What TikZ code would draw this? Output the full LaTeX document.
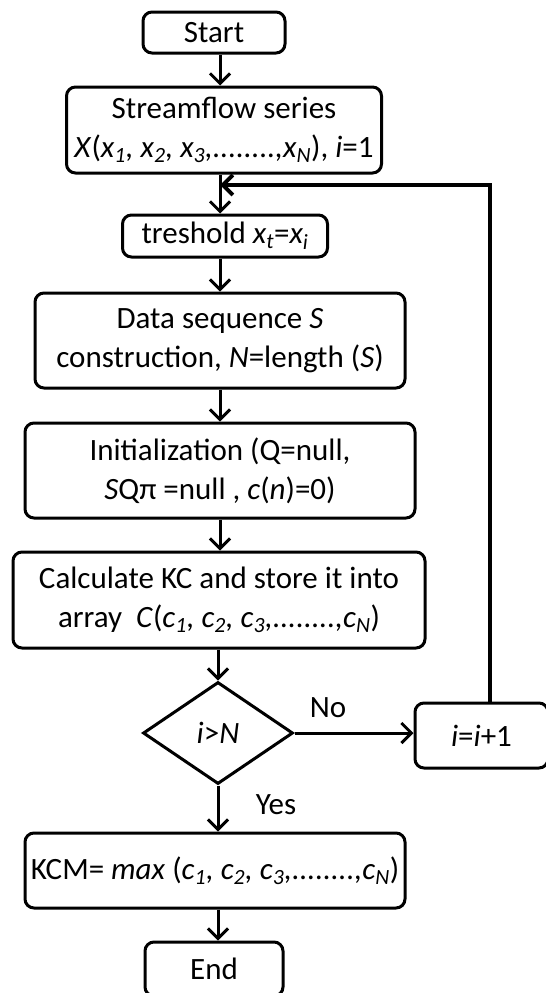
\documentclass[tikz,border=0pt]{standalone}
\usepackage{fontspec}
\setmainfont{Carlito}
\usepackage{tikz}
\usetikzlibrary{shapes.geometric,arrows.meta,positioning,calc}

\newcommand{\ssub}[1]{\textsubscript{#1}}

\tikzset{
    flowbox/.style={draw, line width=3pt, rounded corners=9pt, align=center,
        inner sep=0pt, font=\fontsize{31}{39}\selectfont},
    decbox/.style={draw, diamond, line width=3pt, inner sep=0pt, aspect=1.5,
        minimum width=150pt, minimum height=102pt, font=\fontsize{31}{39}\selectfont},
    flowarrow/.style={line width=3pt, -{Straight Barb[length=10pt,width=20pt]}},
    flowlabel/.style={font=\fontsize{31}{36}\selectfont}
}

\begin{document}
\begin{tikzpicture}[x=1pt, y=-1pt]
    \useasboundingbox (0,0) rectangle (546,993);
    \clip (0,0) rectangle (546,993);

    % Main column of steps
    \node[flowbox, minimum width=142pt, minimum height=41pt] (start) at (214,32.5) {Start};
    \node[flowbox, minimum width=315pt, minimum height=86pt] (series) at (224,130)
        {Streamflow series\\\textit{X}(\textit{x\ssub{1}, x\ssub{2}, x\ssub{3},........,x\ssub{N}}), \textit{i}=1};
    \node[flowbox, minimum width=205pt, minimum height=42pt] (thresh) at (225,236)
        {treshold \textit{x\ssub{t}}=\textit{x\ssub{i}}};
    \node[flowbox, minimum width=370pt, minimum height=95pt] (dataseq) at (220,340.5)
        {Data sequence \textit{S}\\construction, \textit{N}=length (\textit{S})};
    \node[flowbox, minimum width=390pt, minimum height=95pt] (init) at (220,470.5)
        {Initialization (Q=null,\\\textit{S}Qπ =null , \textit{c}(\textit{n})=0)};
    \node[flowbox, minimum width=412pt, minimum height=96pt] (calc) at (219,600)
        {Calculate KC and store it into\\array\ \ \textit{C}(\textit{c\ssub{1}, c\ssub{2}, c\ssub{3},........,c\ssub{N}})};
    \node[decbox] (check) at (218,733) {\textit{i}>\textit{N}};
    \node[flowbox, minimum width=380pt, minimum height=75pt] (kcm) at (215,870.5)
        {KCM= \textit{max} (\textit{c\ssub{1}, c\ssub{2}, c\ssub{3},........,c\ssub{N}})};
    \node[flowbox, minimum width=138pt, minimum height=54pt] (stop) at (214,969) {End};

    % Counter step on the right
    \node[flowbox, minimum width=133pt, minimum height=65pt, text width=125pt] (incr) at (481.5,735.5)
        {\textit{i}=\textit{i}+1};

    % Arrows down the main column
    \draw[flowarrow] (start.south -| 220,0) -- (series.north -| 220,0);
    \draw[flowarrow] (series.south -| 220,0) -- (thresh.north -| 220,0);
    \draw[flowarrow] (thresh.south -| 220,0) -- (dataseq.north -| 220,0);
    \draw[flowarrow] (dataseq.south -| 220,0) -- (init.north -| 220,0);
    \draw[flowarrow] (init.south -| 220,0) -- (calc.north -| 220,0);
    \draw[flowarrow] (calc.south -| 218,0) -- (check.north);
    \draw[flowarrow] (check.south) -- (kcm.north -| check.south);
    \draw[flowarrow] (kcm.south -| 218,0) -- (stop.north -| 218,0);

    % No branch and loop back
    \draw[flowarrow] (check.east) -- (incr.west |- check.east);
    \coordinate (loopturn) at (490,185);
    \coordinate (merge) at (220,185);
    \draw[flowarrow, line width=4pt, line join=miter] (incr.north -| loopturn) -- (loopturn) -- (merge);

    % Branch labels
    \node[flowlabel] (nolab) at (328,708) {No};
    \node[flowlabel] (yeslab) at (276,805) {Yes};
\end{tikzpicture}
\end{document}
